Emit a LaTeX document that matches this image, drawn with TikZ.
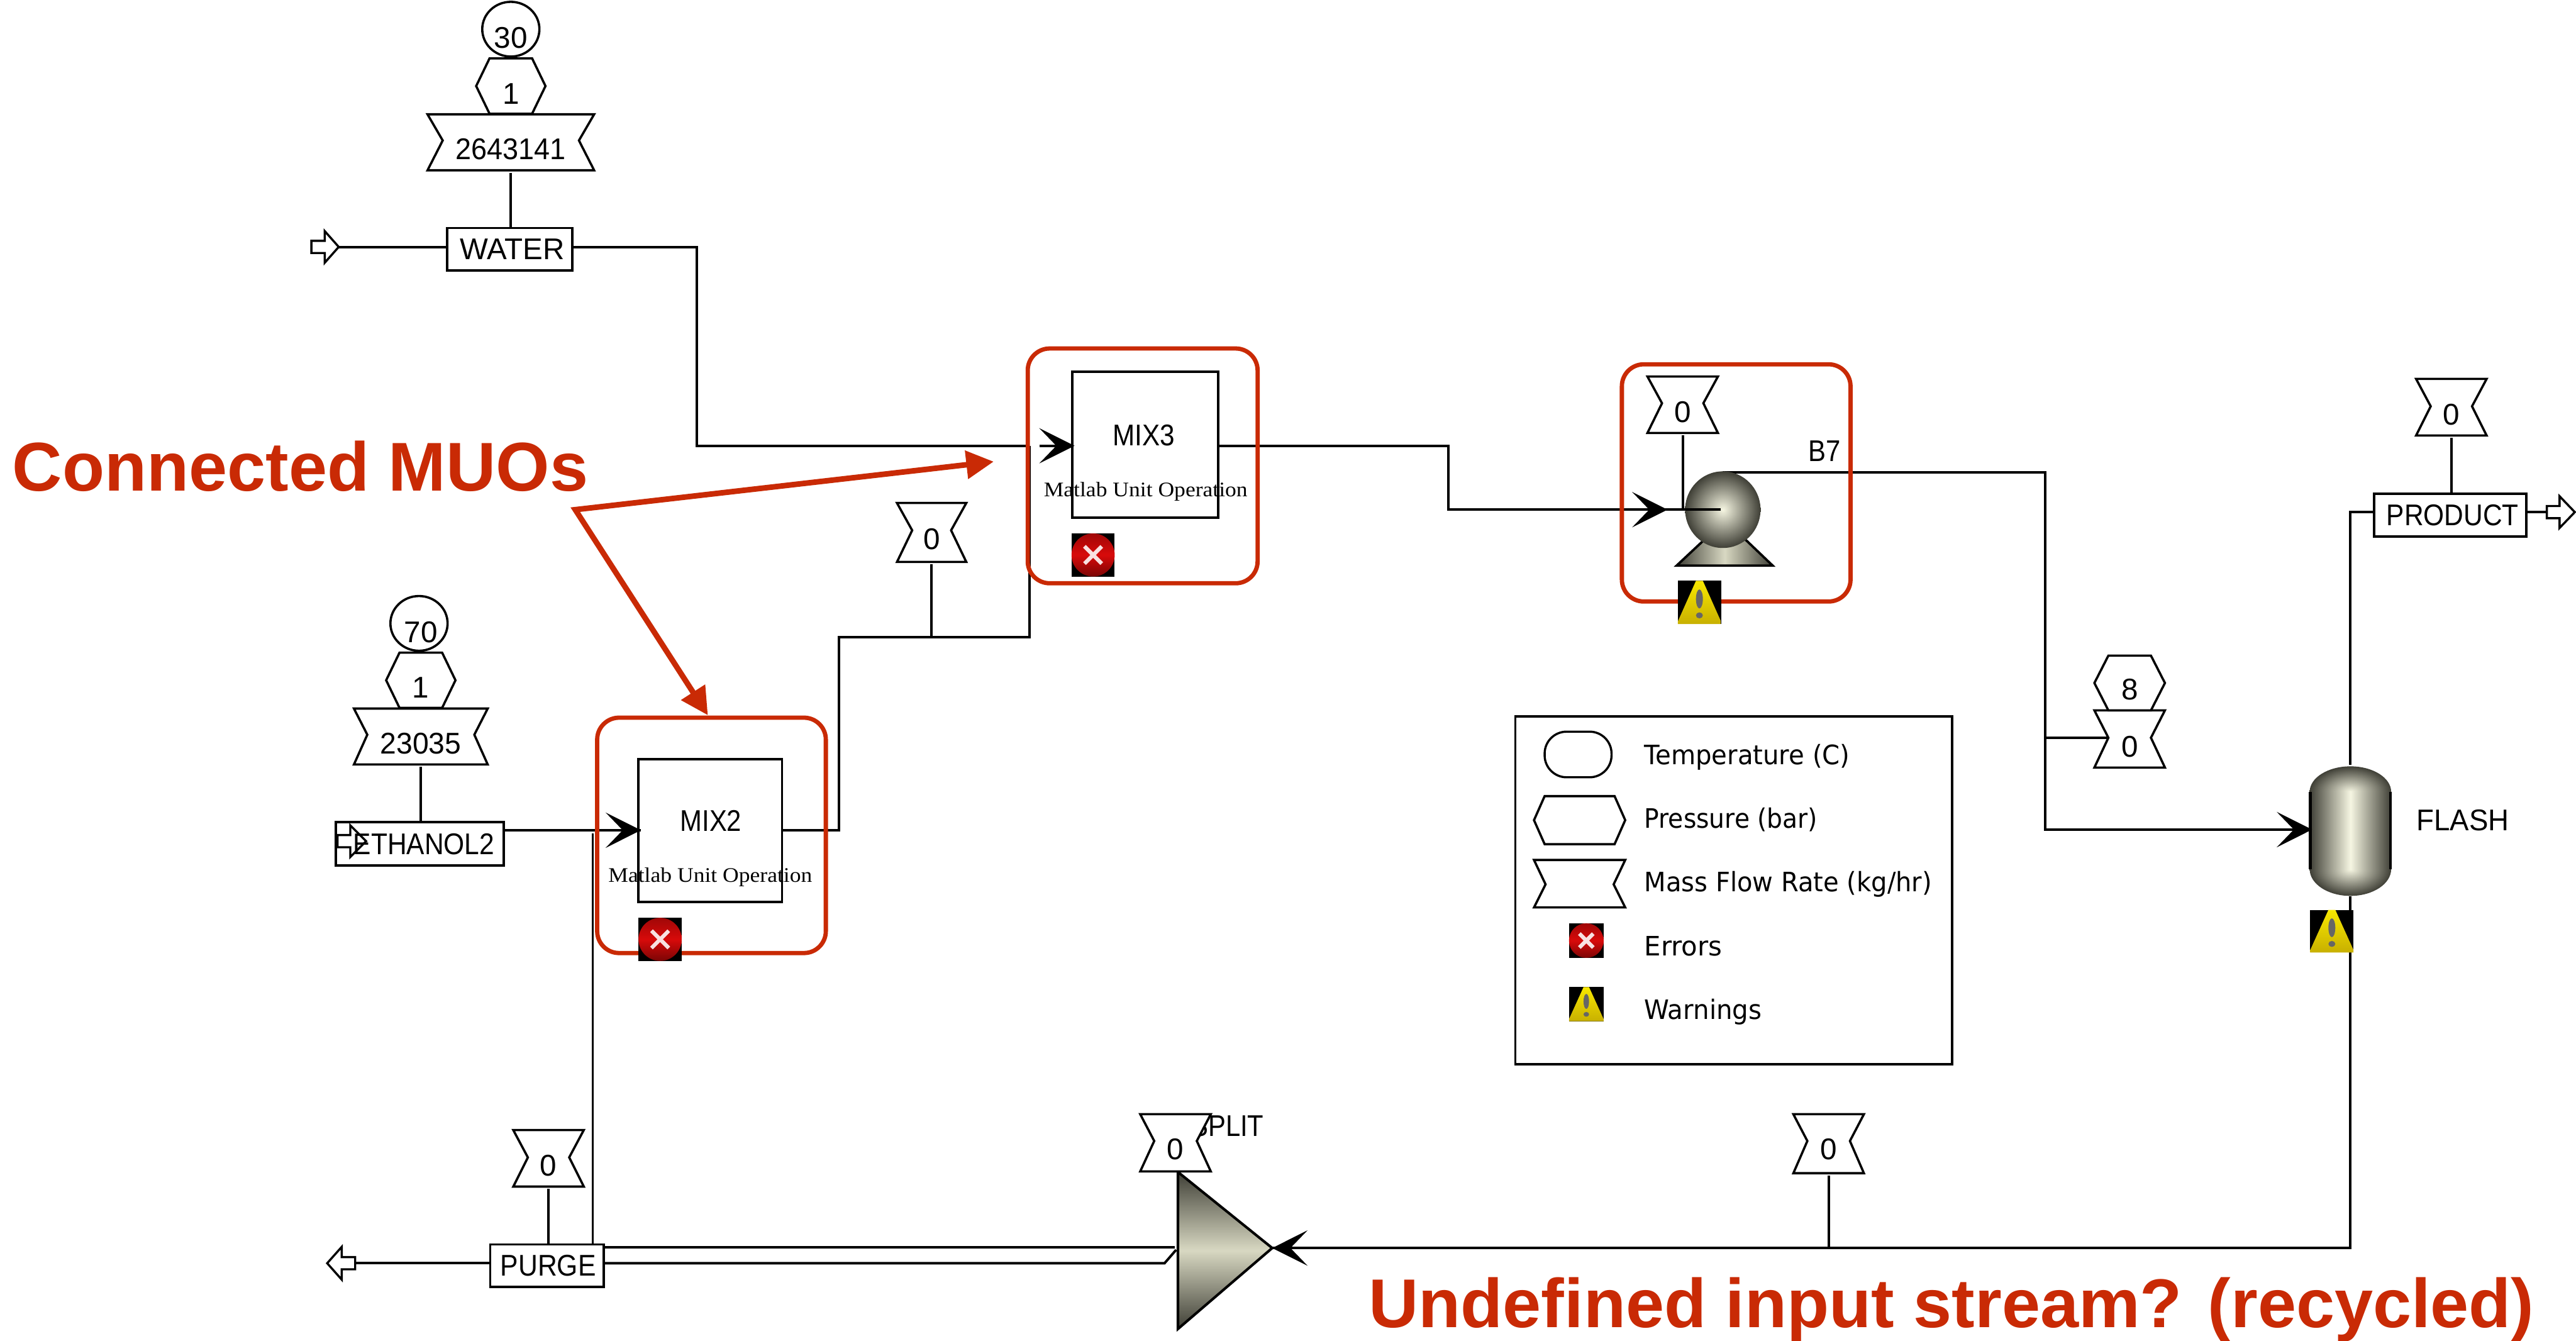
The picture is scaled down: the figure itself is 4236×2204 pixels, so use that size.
\documentclass[tikz,border=0pt]{standalone}
\usepackage{fontspec}
\usepackage{graphicx}
\setmainfont{Liberation Sans}
\newfontfamily\serifface{Liberation Serif}
\newfontfamily\legendface{DejaVu Sans}
\usetikzlibrary{arrows.meta}
\definecolor{muored}{HTML}{C92A05}
\definecolor{dkmetal}{HTML}{3F3F36}
\definecolor{ltmetal}{HTML}{F6F6E2}
\definecolor{midmetal}{HTML}{D8D8C2}
\definecolor{iconred}{HTML}{D80A0A}
\definecolor{icondark}{HTML}{7A0505}
\definecolor{iconyel}{HTML}{F8E800}
\definecolor{iconyeld}{HTML}{C8B000}
\newlength{\pxu}\setlength{\pxu}{0.01cm}
\newcommand{\fitw}[2]{\resizebox{#1\pxu}{\height}{#2}}
\tikzset{
  flow/.style={draw=black,line width=1.15pt,line join=miter},
  thin flow/.style={draw=black,line width=.85pt},
  head/.style={-{Stealth[length=.58cm,width=.58cm,inset=.28cm]}},
  tagshape/.style={draw=black,fill=white,line width=1.05pt,line join=miter},
  lab/.style={inner sep=0pt,outer sep=0pt,font=\fontsize{14pt}{16pt}\selectfont},
  stream/.style={draw=black,fill=white,line width=1.1pt,inner sep=0pt,outer sep=0pt,font=\fontsize{14pt}{16pt}\selectfont},
  blockbox/.style={draw=black,line width=1.1pt,inner sep=0pt,outer sep=0pt},
  redbox/.style={draw=muored,line width=2pt,rounded corners=.36cm},
  redarrow/.style={draw=muored,line width=2.6pt,line join=miter,{Triangle[length=.45cm,width=.45cm]}-{Triangle[length=.45cm,width=.45cm]}},
  redtext/.style={text=muored,inner sep=0pt,outer sep=0pt,font=\fontsize{32.3pt}{36pt}\selectfont\bfseries},
  legendtext/.style={inner sep=0pt,outer sep=0pt,anchor=base west,font=\fontsize{12.5pt}{15pt}\selectfont\legendface},
  muotext/.style={inner sep=0pt,outer sep=0pt,anchor=base,font=\fontsize{9.7pt}{12pt}\selectfont\serifface},
}
% flow tag (mass flow): name, cx, outer half, inner half, top, bottom, mid, text, text y
\newcommand{\flowtag}[9]{%
  \draw[tagshape] ({#2-#3},#5) -- ({#2+#3},#5) -- ({#2+#4},#7) -- ({#2+#3},#6) -- ({#2-#3},#6) -- ({#2-#4},#7) -- cycle;
  \node[lab] (#1) at (#2,#9) {#8};
  \coordinate (#1-s) at (#2,{#6+4});
  \coordinate (#1-w) at ({#2-#4},#7);
}
% pressure tag: name, cx, outer half, inner half, top, bottom, text, text y
\newcommand{\pressuretag}[8]{%
  \draw[tagshape] ({#2-#4},#5) -- ({#2+#4},#5) -- ({#2+#3},{(#5+#6)/2}) -- ({#2+#4},#6) -- ({#2-#4},#6) -- ({#2-#3},{(#5+#6)/2}) -- cycle;
  \node[lab] (#1) at (#2,#8) {#7};
}
% block style box: name, x1, y1, x2, y2, text
\newcommand{\streambox}[6]{%
  \node[stream,minimum width={(#4-#2)*0.01cm},minimum height={(#5-#3)*0.01cm}] (#1) at ({(#2+#4)/2},{(#3+#5)/2}) {#6};
}
% hollow stream arrows: tail x, neck x, tip x, y, fill
\newcommand{\hollowarrow}[5]{%
  \draw[draw=black,fill=#5,line width=1pt,line join=miter] (#1,{#4-10}) -- (#2,{#4-10}) -- (#2,{#4-26}) -- (#3,#4) -- (#2,{#4+26}) -- (#2,{#4+10}) -- (#1,{#4+10}) -- cycle;
}
% error icon: x1,y1,x2,y2
\newcommand{\erricon}[4]{%
  \fill[black] (#1,#2) rectangle (#3,#4);
  \shade[top color=icondark!60!iconred,bottom color=icondark,middle color=iconred] ({(#1+#3)/2},{(#2+#4)/2}) ellipse ({(#3-#1)/2} and {(#4-#2)/2});
  \draw[white,line width=1.8pt,opacity=.88] ({#1+.3*(#3-#1)},{#2+.3*(#4-#2)}) -- ({#1+.7*(#3-#1)},{#2+.7*(#4-#2)})
    ({#1+.7*(#3-#1)},{#2+.3*(#4-#2)}) -- ({#1+.3*(#3-#1)},{#2+.7*(#4-#2)});
}
% warning icon: x1,y1,x2,y2
\newcommand{\warnicon}[4]{%
  \fill[black] (#1,#2) rectangle (#3,#4);
  \shade[top color=iconyel,bottom color=iconyeld] ({#1+.42*(#3-#1)},#2) -- ({#1+.58*(#3-#1)},#2) -- (#3,{#4-.06*(#4-#2)}) -- (#3,#4) -- (#1,#4) -- (#1,{#4-.06*(#4-#2)}) -- cycle;
  \fill[black!60] ({(#1+#3)/2},{#2+.42*(#4-#2)}) ellipse ({.08*(#3-#1)} and {.22*(#4-#2)});
  \fill[black!60] ({(#1+#3)/2},{#2+.8*(#4-#2)}) ellipse ({.08*(#3-#1)} and {.07*(#4-#2)});
}
\begin{document}
\begin{tikzpicture}[x=0.01cm,y=-0.01cm]
\useasboundingbox (0,0) rectangle (4236,2204);
\fill[white] (0,0) rectangle (4236,2204);

%% ---- junction coordinates
\coordinate (waterFeed) at (557,406);
\coordinate (waterW) at (735,406);
\coordinate (waterE) at (941,406);
\coordinate (waterBend) at (1146,406);
\coordinate (mix3Bend) at (1146,733);
\coordinate (mix3In) at (1767,733);
\coordinate (ethW) at (828,1365);
\coordinate (mix2In) at (1054,1365);
\coordinate (mix2Out) at (1288,1365);
\coordinate (mix2Bend) at (1380,1365);
\coordinate (mix2Up) at (1380,1048);
\coordinate (linkBend) at (1693,1048);
\coordinate (linkTop) at (1693,733);
\coordinate (linkTag) at (1532,1048);
\coordinate (mix3Out) at (2005,733);
\coordinate (o1) at (2382,733);
\coordinate (o2) at (2382,838);
\coordinate (pumpIn) at (2742,838);
\coordinate (pumpCtr) at (2829,838);
\coordinate (pumpTag) at (2767,838);
\coordinate (pumpOut) at (2833,777);
\coordinate (b1) at (3363,777);
\coordinate (b2) at (3363,1364);
\coordinate (b3) at (3363,1213);
\coordinate (flashIn) at (3802,1364);
\coordinate (flashTop) at (3865,1258);
\coordinate (flashBot) at (3865,1474);
\coordinate (f1) at (3865,842);
\coordinate (prodW) at (3904,842);
\coordinate (prodE) at (4154,842);
\coordinate (prodOut) at (4188,842);
\coordinate (f2) at (3865,2052);
\coordinate (splitIn) at (2092,2052);
\coordinate (recTag) at (3007,2052);
\coordinate (purgeOut) at (584,2077);
\coordinate (purgeW) at (806,2077);
\coordinate (purgeE1) at (993,2051);
\coordinate (purgeE2) at (993,2077);
\coordinate (splitA) at (1932,2051);
\coordinate (splitB) at (1915,2077);
\coordinate (splitC) at (1934,2055);
\coordinate (purgeDrop) at (975,2046);
\coordinate (mix2Drop) at (975,1370);
\coordinate (purgeTop) at (902,2046);
\coordinate (redV) at (946,838);
\coordinate (redA) at (1634,759);
\coordinate (redB) at (1164,1176);

%% ---- stream connectors
\draw[flow] (waterFeed) -- (waterW);
\draw[flow] (waterE) -- (waterBend) -- (mix3Bend) -- (linkTop);
\draw[flow] (ethW) -- (mix2In);
\draw[flow] (mix2Out) -- (mix2Bend) -- (mix2Up) -- (linkBend) -- (linkTop);
\draw[flow] (mix3Out) -- (o1) -- (o2) -- (pumpIn);
\draw[flow] (pumpOut) -- (b1) -- (b2) -- (flashIn);
\draw[flow] (flashTop) -- (f1) -- (prodW);
\draw[flow] (prodE) -- (prodOut);
\draw[flow] (flashBot) -- (f2) -- (splitIn);
\draw[flow] (purgeOut) -- (purgeW);
\draw[flow] (purgeE1) -- (splitA);
\draw[flow] (purgeE2) -- (splitB) -- (splitC);
\draw[thin flow] (mix2Drop) -- (purgeDrop);

%% ---- WATER column
\streambox{water}{735}{375}{941}{445}{\hspace*{8\pxu}\fitw{172}{WATER}}
\draw[tagshape] (840,48) ellipse (47 and 45);
\node[lab] (waterT) at (840,62) {30};
\pressuretag{waterP}{840}{57}{35}{96}{187}{1}{154}
\flowtag{waterF}{840}{137}{112}{188}{280}{231}{\fitw{181}{2643141}}{245}
\draw[flow] (waterF-s) -- (waterF-s |- water.north);
\hollowarrow{512}{534}{557}{406}{white}

%% ---- ETHANOL2 column
\streambox{eth}{552}{1352}{828}{1423}{\hspace*{14\pxu}\fitw{232}{ETHANOL2}}
\draw[tagshape] (689,1025) ellipse (47 and 45);
\node[lab] (ethT) at (692,1039) {70};
\pressuretag{ethP}{692}{57}{35}{1073}{1164}{1}{1131}
\flowtag{ethF}{692}{110}{88}{1165}{1257}{1208}{\fitw{133}{23035}}{1222}
\draw[flow] (ethF-s) -- (ethF-s |- eth.north);
\hollowarrow{555}{576}{602}{1383}{none}

%% ---- MIX2 block
\node[blockbox,minimum width=2.36cm,minimum height=2.35cm] (mix2) at (1168,1365.5) {};
\node[lab] (mix2t) at (1169,1349) {\fitw{101}{MIX2}};
\node[muotext] (mix2m) at (1168,1450) {\fitw{335}{Matlab Unit Operation}};
\draw[redbox] (982,1180) rectangle (1358,1567);
\erricon{1050}{1509}{1121}{1580}

%% ---- MIX3 block and link
\flowtag{linkF}{1532}{57}{32}{827}{924}{872}{0}{886}
\draw[flow] (linkF-s) -- (linkTag);
\node[blockbox,minimum width=2.4cm,minimum height=2.4cm] (mix3) at (1883,731) {};
\node[lab] (mix3t) at (1881,716) {\fitw{102}{MIX3}};
\node[muotext] (mix3m) at (1884,816) {\fitw{335}{Matlab Unit Operation}};
\draw[redbox] (1690,573) rectangle (2068,959);
\erricon{1762}{877}{1833}{948}
\draw[flow,head] (997,1365) -- (mix2In);
\draw[flow,head] (1709,733) -- (mix3In);

%% ---- pump B7
\shade[left color=dkmetal,right color=dkmetal,middle color=midmetal] (2803,887) -- (2870,887) -- (2915,930) -- (2757,930) -- cycle;
\draw[black,line width=1.1pt] (2803,887) -- (2757,930) -- (2915,930) -- (2870,887);
\shade[inner color=ltmetal,outer color=dkmetal] (2833,838) ellipse (62 and 63);
\flowtag{pumpF}{2767}{58}{34}{619}{712}{663}{0}{677}
\draw[flow] (pumpF-s) -- (pumpTag);
\draw[flow] (pumpIn) -- (pumpCtr);
\draw[flow,head] (2688,838) -- (pumpIn);
\node[lab] (b7) at (3000,742) {\fitw{53}{B7}};
\draw[redbox] (2667,599) rectangle (3043,989);
\warnicon{2759}{955}{2830}{1026}

%% ---- flash vessel
\flowtag{flashF}{3502}{58}{35}{1168}{1262}{1213}{0}{1228}
\draw[flow] (b3) -- (flashF-w);
\pressuretag{flashP}{3502}{58}{35}{1078}{1168}{8}{1134}
\shade[inner color=ltmetal,outer color=dkmetal] (3865,1302) ellipse (67 and 42);
\shade[inner color=ltmetal,outer color=dkmetal] (3865,1429) ellipse (67 and 44);
\shade[left color=dkmetal,right color=dkmetal,middle color=ltmetal] (3798,1302) rectangle (3932,1429);
\draw[black,line width=1.2pt] (3799,1302) -- (3799,1429) (3931,1302) -- (3931,1429);
\draw[flow,head] (3744,1364) -- (flashIn);
\node[lab] (flash) at (4050,1349) {\fitw{152}{FLASH}};
\warnicon{3799}{1496}{3870}{1566}

%% ---- PRODUCT
\streambox{prod}{3904}{812}{4154}{882}{\hspace*{8\pxu}\fitw{217}{PRODUCT}}
\flowtag{prodF}{4031}{58}{34}{623}{716}{668}{0}{682}
\draw[flow] (prodF-s) -- (prodF-s |- prod.north);
\hollowarrow{4188}{4209}{4234}{842}{white}

%% ---- PURGE
\streambox{purge}{806}{2046}{993}{2116}{\hspace*{4\pxu}\fitw{157}{PURGE}}
\flowtag{purgeF}{902}{58}{34}{1858}{1951}{1903}{0}{1916}
\draw[flow] (purgeF-s) -- (purgeTop);
\draw[draw=black,fill=white,line width=1pt,line join=miter] (584,2067) -- (562,2067) -- (562,2050) -- (538,2077) -- (562,2104) -- (562,2087) -- (584,2087) -- cycle;

%% ---- splitter
\node[lab] (split) at (2018,1851) {\fitw{120}{SPLIT}};
\shade[top color=dkmetal,bottom color=dkmetal,middle color=midmetal] (1937,1927) -- (2092,2052) -- (1937,2185) -- cycle;
\draw[black,line width=1.2pt,line join=miter] (1937,1927) -- (2092,2052) -- (1937,2185) -- cycle;
\flowtag{splitF}{1933}{58}{35}{1832}{1926}{1876}{0}{1890}
\draw[flow,head] (2149,2052) -- (splitIn);

%% ---- recycle tag
\flowtag{recF}{3007}{58}{35}{1832}{1929}{1876}{0}{1890}
\draw[flow] (recF-s) -- (recTag);

%% ---- legend
\node[draw=black,line width=1.1pt,inner sep=0pt,minimum width=7.18cm,minimum height=5.72cm] (legend) at (2851,1464) {};
\draw[black,line width=1pt,rounded corners=.36cm] (2540,1203) rectangle (2650,1278);
\pressuretag{legP}{2597.5}{75}{57.5}{1309}{1388}{}{1349}
\flowtag{legF}{2597.5}{75}{56}{1414}{1492}{1454}{}{1454}
\erricon{2580}{1518}{2637}{1575}
\warnicon{2580}{1623}{2637}{1679}
\node[legendtext] (legA) at (2704,1257) {\fitw{338}{Temperature (C)}};
\node[legendtext] (legB) at (2704,1361) {\fitw{285}{Pressure (bar)}};
\node[legendtext] (legC) at (2704,1466) {\fitw{473}{Mass Flow Rate (kg/hr)}};
\node[legendtext] (legD) at (2704,1571) {\fitw{128}{Errors}};
\node[legendtext] (legE) at (2704,1676) {\fitw{193}{Warnings}};

%% ---- annotations
\draw[redarrow] (redA) -- (redV) -- (redB);
\node[redtext] (conn) at (494,767) {Connected MUOs};
\node[redtext,anchor=base] (undef) at (3209,2183) {Undefined input stream? (recycled)};
\end{tikzpicture}
\end{document}
